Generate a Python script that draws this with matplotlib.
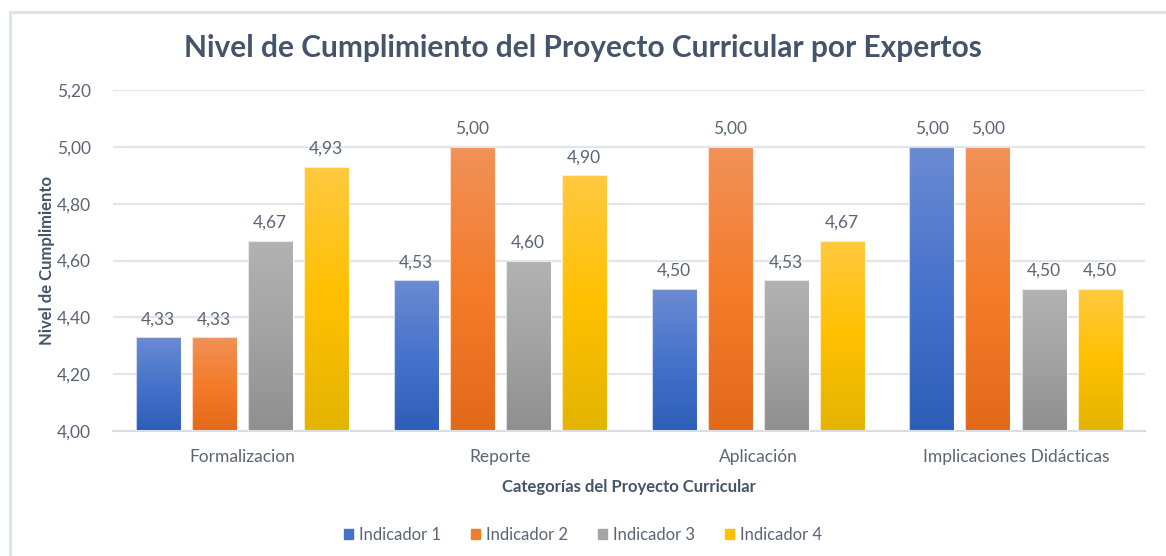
import numpy as np
import matplotlib
matplotlib.use("Agg")
import matplotlib.pyplot as plt
from matplotlib.colors import LinearSegmentedColormap
from matplotlib.lines import Line2D
from matplotlib.patches import Rectangle

categories = ["Formalizacion", "Reporte", "Aplicación", "Implicaciones Didácticas"]
series_names = ["Indicador 1", "Indicador 2", "Indicador 3", "Indicador 4"]
ind1 = [4.33, 4.53, 4.50, 5.00]
ind2 = [4.33, 5.00, 5.00, 5.00]
ind3 = [4.67, 4.60, 4.53, 4.50]
ind4 = [4.93, 4.90, 4.67, 4.50]
series = [ind1, ind2, ind3, ind4]
yticks = [4.00, 4.20, 4.40, 4.60, 4.80, 5.00, 5.20]

base_colors = ["#4472C4", "#ED7D31", "#A5A5A5", "#FFC000"]
grad = [
    ["#6B8BD3", "#4673CB", "#2E5DB8"],
    ["#F29158", "#F47C2A", "#E2691A"],
    ["#B2B2B2", "#A3A3A3", "#8F8F8F"],
    ["#FFC940", "#FFC000", "#E4B400"],
]

plt.rcParams['font.family'] = ['Lato', 'DejaVu Sans']
W, H = 1166, 556
fig = plt.figure(figsize=(W / 100, H / 100), dpi=100)
fig.patch.set_facecolor("white")

# chart border (top and left visible)
fig.add_artist(Line2D([10 / W, 10 / W], [0, 1 - 12 / H], transform=fig.transFigure, color="#DDE1E8", lw=2))
fig.add_artist(Line2D([10 / W, 1], [1 - 12 / H, 1 - 12 / H], transform=fig.transFigure, color="#DDE1E8", lw=2))

ax = fig.add_axes([113 / W, (H - 431) / H, (1145 - 113) / W, (431 - 90) / H])
ax.set_xlim(-0.5, len(categories) - 0.5)
ax.set_ylim(4.0, 5.2)
ax.set_yticks(yticks)
ax.set_yticklabels([f"{v:.2f}".replace(".", ",") for v in yticks])
ax.set_xticks(range(len(categories)))
ax.set_xticklabels(categories)
for s in ["top", "right", "left"]:
    ax.spines[s].set_visible(False)
ax.spines["bottom"].set_color("#D9DDE3")
ax.spines["bottom"].set_linewidth(1.5)
ax.grid(axis="y", color="#E1E4EA", lw=1.5)
ax.set_axisbelow(True)
ax.tick_params(axis="both", length=0, labelsize=12.5, labelcolor="#5B6475")
ax.tick_params(axis="y", pad=16)
ax.tick_params(axis="x", pad=13)

bw = 45 / 258
step = 56 / 258
x = np.arange(len(categories))
txtcol = "#5B6475"
for i, vals in enumerate(series):
    xs = x + (i - 1.5) * step
    bars = ax.bar(xs, [v - 4.0 for v in vals], bottom=4.0, width=bw,
                  color=base_colors[i], edgecolor="white", linewidth=0.6,
                  label=series_names[i], zorder=2)
    cmap = LinearSegmentedColormap.from_list(f"g{i}", grad[i][::-1])
    for b, v in zip(bars, vals):
        x0 = b.get_x()
        g = np.linspace(0, 1, 256).reshape(-1, 1)
        im = ax.imshow(g, extent=[x0, x0 + bw, 4.0, v], origin="lower",
                       cmap=cmap, aspect="auto", zorder=2.5, interpolation="bilinear")
        im.set_clip_path(b)
        ax.add_patch(Rectangle((x0, 4.0), bw, v - 4.0, fill=False,
                               edgecolor=(1, 1, 1, 0.7), lw=0.8, zorder=3))
        ax.text(x0 + bw / 2, v + 0.035, f"{v:.2f}".replace(".", ","),
                ha="center", va="bottom", fontsize=12.5, color=txtcol, zorder=4)
ax.set_xlim(-0.5, len(categories) - 0.5)
ax.set_ylim(4.0, 5.2)

ax.set_ylabel("Nivel de Cumplimiento", fontsize=12, fontweight="bold", color="#44546A", labelpad=1)
ax.set_xlabel("Categorías del Proyecto Curricular", fontsize=12, fontweight="bold", color="#44546A", labelpad=10)

fig.text(0.5, 1 - 48 / H, "Nivel de Cumplimiento del Proyecto Curricular por Expertos",
         ha="center", va="center", fontsize=21.5, fontweight="bold", color="#44546A")

handles = [Rectangle((0, 0), 1, 1, color=c) for c in base_colors]
fig.legend(handles, series_names, loc="center", bbox_to_anchor=(0.5, 1 - 535 / H),
           ncol=4, frameon=False, fontsize=12, handlelength=0.55, handleheight=0.55,
           handletextpad=0.35, columnspacing=1.8, labelcolor=txtcol)

fig.savefig("out.png", dpi=100, facecolor="white")
